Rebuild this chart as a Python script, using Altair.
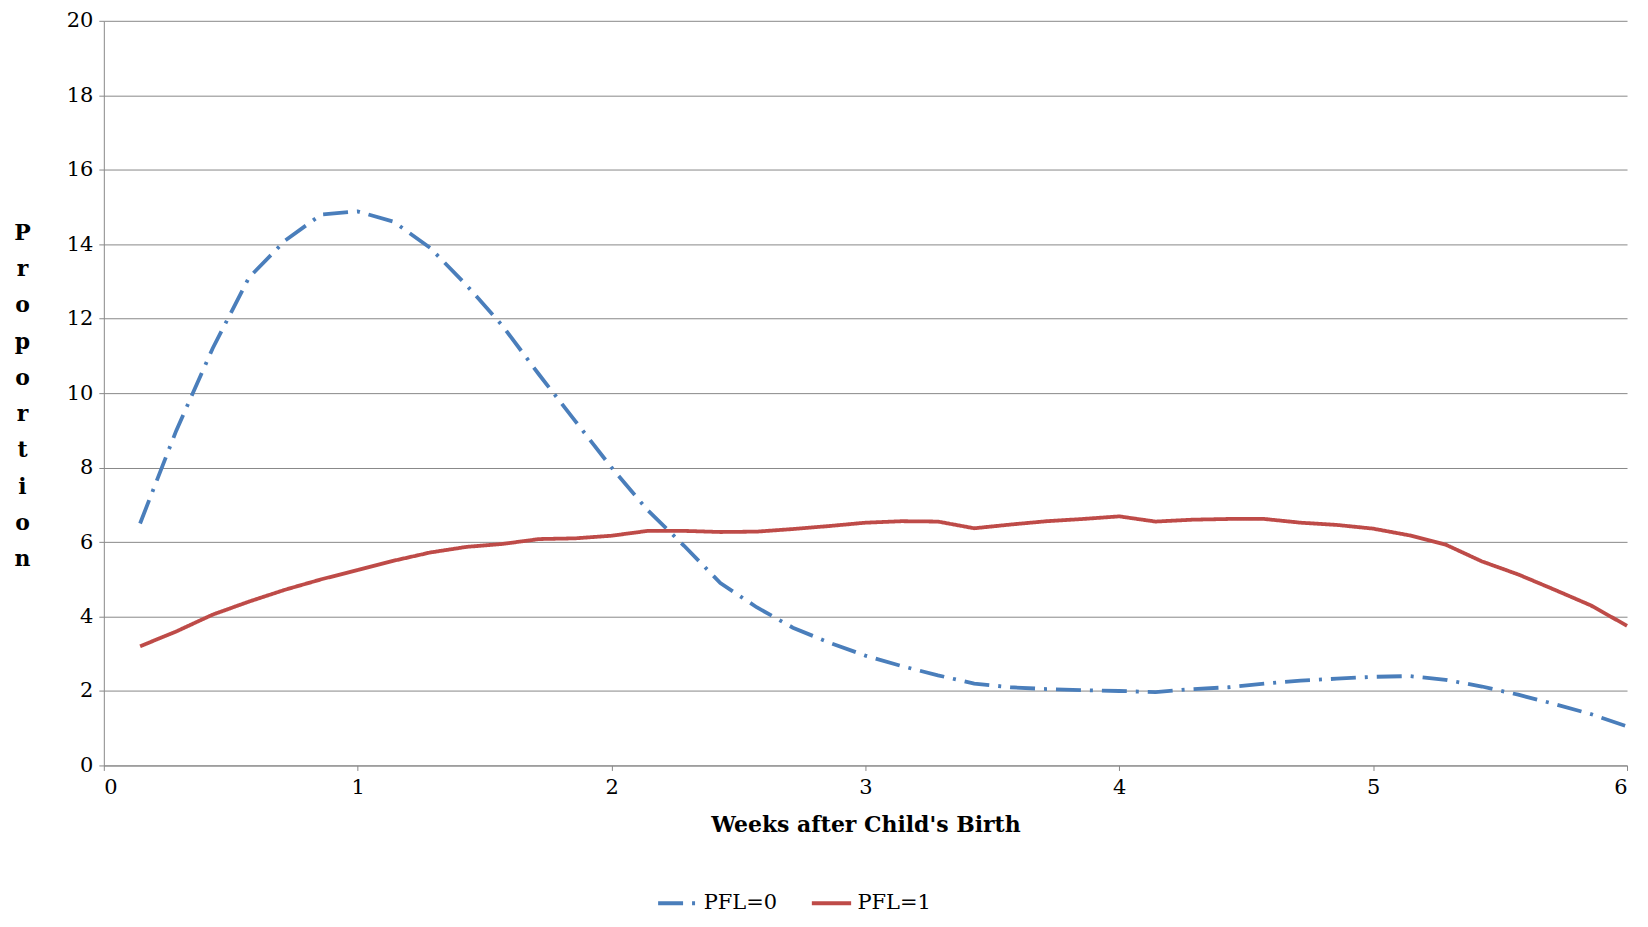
import altair as alt
import pandas as pd

days = list(range(1, 43))
pfl0 = [6.5, 9.0, 11.2, 13.1, 14.1, 14.8, 14.88, 14.6, 13.9, 12.9, 11.8, 10.5, 9.25, 8.0,
        6.85, 5.9, 4.9, 4.25, 3.7, 3.3, 2.95, 2.67, 2.42, 2.2, 2.1, 2.05, 2.02, 2.0,
        1.97, 2.05, 2.1, 2.2, 2.28, 2.33, 2.38, 2.4, 2.3, 2.12, 1.9, 1.65, 1.38, 1.05]
pfl1 = [3.2, 3.6, 4.05, 4.4, 4.72, 5.0, 5.25, 5.5, 5.72, 5.87, 5.95, 6.08, 6.1, 6.17,
        6.3, 6.3, 6.27, 6.28, 6.35, 6.43, 6.52, 6.56, 6.55, 6.37, 6.47, 6.56, 6.62, 6.69,
        6.55, 6.6, 6.62, 6.62, 6.52, 6.46, 6.36, 6.18, 5.93, 5.48, 5.13, 4.72, 4.3, 3.75]

rows = []
for d, a, b in zip(days, pfl0, pfl1):
    rows.append({"week": d / 7, "value": a, "series": "PFL=0"})
    rows.append({"week": d / 7, "value": b, "series": "PFL=1"})
df = pd.DataFrame(rows)

font = "DejaVu Serif"
chart = (
    alt.Chart(df)
    .mark_line(strokeWidth=3.8)
    .encode(
        x=alt.X("week:Q", scale=alt.Scale(domain=[0, 6], nice=False),
                axis=alt.Axis(values=[0, 1, 2, 3, 4, 5, 6], grid=False, format="d",
                              title="Weeks after Child's Birth", titleFontWeight="bold",
                              titlePadding=17)),
        y=alt.Y("value:Q", scale=alt.Scale(domain=[0, 20]),
                axis=alt.Axis(values=list(range(0, 21, 2)), gridColor="#888",
                              title=list("Proportion"), titleAngle=0, titleFontWeight="bold",
                              titleBaseline="middle", titleLineHeight=36.3,
                              titleX=-82, titleY=212, titleAlign="center")),
        color=alt.Color("series:N", scale=alt.Scale(domain=["PFL=0", "PFL=1"],
                                                     range=["#4a7ebb", "#be4b48"]),
                        legend=alt.Legend(orient="none", legendX=553, legendY=862,
                                          direction="horizontal", title=None,
                                          symbolType="stroke", symbolSize=1550,
                                          symbolStrokeWidth=4, labelFontSize=21,
                                          labelFont=font, columnPadding=26)),
        strokeDash=alt.StrokeDash("series:N", scale=alt.Scale(domain=["PFL=0", "PFL=1"],
                                                             range=[[25, 9, 3, 9], [1, 0]]),
                                  legend=None),
    )
    .properties(width=1526, height=746,
                padding={"top": 1, "left": 5, "right": 5, "bottom": 2})
    .configure_axis(labelFont=font, titleFont=font, labelFontSize=21, titleFontSize=22,
                    labelColor="#000", titleColor="#000", domainColor="#888", tickColor="#888",
                    labelPadding=6)
    .configure_view(stroke=None)
)
chart.save("out.html", embed_options={"renderer": "svg", "actions": False})
